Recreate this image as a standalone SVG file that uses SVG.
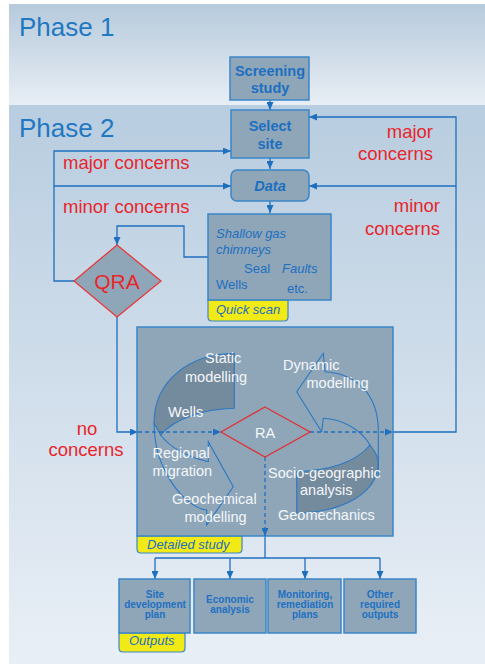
<svg xmlns="http://www.w3.org/2000/svg" width="485" height="664" viewBox="0 0 485 664">
<defs>
<linearGradient id="g1" x1="0" y1="0" x2="0" y2="1"><stop offset="0" stop-color="#b6cadc"/><stop offset="1" stop-color="#e8eef5"/></linearGradient>
<linearGradient id="g2" x1="0" y1="0" x2="0" y2="1"><stop offset="0" stop-color="#b8cde0"/><stop offset="1" stop-color="#e9eff6"/></linearGradient>
<marker id="ah" viewBox="0 0 8 7" refX="8" refY="3.5" markerWidth="8" markerHeight="7" markerUnits="userSpaceOnUse" orient="auto"><path d="M0,0 L8,3.5 L0,7 Z" fill="#1f6fbf"/></marker>
<style>
.box{fill:#8fa6b9;stroke:#3a86c8;stroke-width:1.5}
.tag{fill:#f2ea16;stroke:#3a86c8;stroke-width:1.2}
.ln{fill:none;stroke:#1f6fbf;stroke-width:1.3}
.ar{marker-end:url(#ah)}
.dash{stroke-dasharray:4 3}
.t{font-family:"Liberation Sans",Arial,sans-serif}
.bt{font-family:"Liberation Sans",Arial,sans-serif;font-weight:bold;fill:#1d6fc0;text-anchor:middle}
.it{font-family:"Liberation Sans",Arial,sans-serif;font-style:italic;fill:#1d6fc0;font-size:13px}
.red{font-family:"Liberation Sans",Arial,sans-serif;fill:#e8262c;font-size:18.5px}
.wt{font-family:"Liberation Sans",Arial,sans-serif;fill:#f4f7fa;font-size:14.5px}
.ob{font-family:"Liberation Sans",Arial,sans-serif;font-weight:bold;fill:#2070c2;font-size:10px;text-anchor:middle}
.shape{fill:none;stroke:#2a78c4;stroke-width:1.1}
.dark{fill:#748a9d;stroke:#2a78c4;stroke-width:1.1}
</style>
</defs>

<g id="background">
<rect x="9" y="4" width="476" height="101" fill="url(#g1)"/>
<rect x="9" y="105" width="476" height="559" fill="url(#g2)"/>
<text x="19" y="36" class="t" font-size="26" fill="#1f78c1">Phase 1</text>
<text x="19" y="137" class="t" font-size="26" fill="#1f78c1">Phase 2</text>
</g>

<g id="connectors">
<path class="ln ar" d="M270,100 L270,110"/>
<path class="ln ar" d="M270,158 L270,169"/>
<path class="ln ar" d="M270,201 L270,213"/>
<path class="ln ar" d="M208,257 L184,257 L184,226 L117,226 L117,245"/>
<path class="ln ar" d="M74,281 L54,281 L54,151 L231,151"/>
<path class="ln ar" d="M54,186 L231,186"/>
<path class="ln ar" d="M117,317 L117,432 L138,432"/>
<path class="ln ar" d="M393,432 L456,432 L456,117 L309,117"/>
<path class="ln ar" d="M456,186 L309,186"/>
<path class="ln" d="M265,536 L265,558 M155,558 L380,558"/>
<path class="ln ar" d="M155,558 L155,579"/>
<path class="ln ar" d="M230,558 L230,579"/>
<path class="ln ar" d="M305,558 L305,579"/>
<path class="ln ar" d="M380,558 L380,579"/>
</g>

<g id="screening">
<rect class="box" x="230" y="57" width="79" height="43"/>
<text class="bt" x="270" y="76" font-size="14.5">Screening</text>
<text class="bt" x="270" y="93" font-size="14.5">study</text>
</g>

<g id="select-site">
<rect class="box" x="231" y="110" width="78" height="48"/>
<text class="bt" x="270" y="131" font-size="14.5">Select</text>
<text class="bt" x="270" y="148.5" font-size="14.5">site</text>
</g>

<g id="data">
<rect class="box" x="231" y="170" width="78" height="31" rx="6"/>
<text class="bt" x="270" y="190.5" font-size="14.5" font-style="italic">Data</text>
</g>

<g id="quick-scan">
<path class="tag" d="M208,300 L288,300 L288,317 Q288,321 284,321 L212,321 Q208,321 208,317 Z"/>
<rect class="box" x="208" y="214" width="123" height="86"/>
<text class="it" x="216" y="238">Shallow gas</text>
<text class="it" x="216" y="253.5">chimneys</text>
<text class="t" x="244" y="272.5" font-size="13" fill="#1d6fc0">Seal</text>
<text class="it" x="282" y="272.5">Faults</text>
<text class="t" x="216" y="288.5" font-size="13" fill="#1d6fc0">Wells</text>
<text class="t" x="287" y="292.5" font-size="13" fill="#1d6fc0">etc.</text>
<text class="it" x="216" y="314">Quick scan</text>
</g>

<g id="qra">
<path d="M117,245 L161,281 L117,317 L74,281 Z" fill="#8fa6b9" stroke="#e8383a" stroke-width="1.3"/>
<text x="117" y="288.5" class="t" font-size="21" fill="#e8262c" text-anchor="middle">QRA</text>
</g>

<g id="labels">
<text class="red" x="63" y="169">major concerns</text>
<text class="red" x="63" y="213">minor concerns</text>
<text class="red" x="433" y="138" text-anchor="end">major</text>
<text class="red" x="433" y="160" text-anchor="end">concerns</text>
<text class="red" x="440" y="212" text-anchor="end">minor</text>
<text class="red" x="440" y="235" text-anchor="end">concerns</text>
<text class="red" x="87" y="435" text-anchor="middle">no</text>
<text class="red" x="86" y="456" text-anchor="middle">concerns</text>
</g>

<g id="detailed-study">
<path class="tag" d="M137,536 L242,536 L242,549 Q242,553 238,553 L141,553 Q137,553 137,549 Z"/>
<rect class="box" x="137" y="327" width="256" height="209"/>
<path class="dark" d="M234.3,353.3 L234.3,408.3 C205,409 175,418 160.7,435 L154,423.3 C154,380 190,354 234.3,353.3 Z"/>
<path class="shape" d="M154,423.3 C154,470 185,508 206.7,510 L206.7,525 L233.3,486.7 L208.3,441.7 L208.3,461.7 C190,458 170,448 160.7,435"/>
<path class="dark" d="M370,445 C355,463 330,470 296.7,471.7 L296.7,513.3 C345,512 378,492 378.3,463 C378.3,456 374,450 370,445 Z"/>
<path class="shape" d="M321.7,432 L296.7,391.7 L323.3,353.3 L325,371.7 C360,374 378,398 378.3,430 L378.3,478"/>
<path class="shape" d="M321.7,432 L323.3,418.3 C340,419 360,428 370,445"/>
<path class="ln ar dash" d="M138,432 L221,432"/>
<path class="ln ar dash" d="M310,432 L393,432"/>
<path class="ln ar dash" d="M265,457 L265,536"/>
<path d="M265,407 L310,432 L265,457 L221,432 Z" fill="none" stroke="#e03034" stroke-width="1.3"/>
<text class="wt" x="265" y="438" font-size="16" text-anchor="middle">RA</text>
<text class="wt" x="205" y="362.5">Static</text>
<text class="wt" x="185" y="381.5">modelling</text>
<text class="wt" x="168" y="416.5">Wells</text>
<text class="wt" x="152.5" y="458">Regional</text>
<text class="wt" x="152.5" y="475.5">migration</text>
<text class="wt" x="172" y="504">Geochemical</text>
<text class="wt" x="184.5" y="521.5">modelling</text>
<text class="wt" x="283" y="370">Dynamic</text>
<text class="wt" x="306.5" y="387.5">modelling</text>
<text class="wt" x="268" y="478">Socio-geographic</text>
<text class="wt" x="300" y="494.5">analysis</text>
<text class="wt" x="278" y="520">Geomechanics</text>
<text class="it" x="147" y="548.5">Detailed study</text>
</g>

<g id="out-site">
<path class="tag" d="M119,633 L185,633 L185,648 Q185,652 181,652 L123,652 Q119,652 119,648 Z"/>
<rect class="box" x="119" y="579" width="71" height="54"/>
<text class="ob" x="155" y="597.5">Site</text>
<text class="ob" x="155" y="607.5">development</text>
<text class="ob" x="155" y="617.5">plan</text>
<text class="it" x="129" y="644.5">Outputs</text>
</g>
<g id="out-economic">
<rect class="box" x="194" y="579" width="72" height="54"/>
<text class="ob" x="230" y="603">Economic</text>
<text class="ob" x="230" y="613">analysis</text>
</g>
<g id="out-monitoring">
<rect class="box" x="268" y="579" width="73" height="54"/>
<text class="ob" x="305" y="597.5">Monitoring,</text>
<text class="ob" x="305" y="607.5">remediation</text>
<text class="ob" x="305" y="617.5">plans</text>
</g>
<g id="out-other">
<rect class="box" x="344" y="579" width="72" height="54"/>
<text class="ob" x="380" y="597.5">Other</text>
<text class="ob" x="380" y="607.5">required</text>
<text class="ob" x="380" y="617.5">outputs</text>
</g>
</svg>
